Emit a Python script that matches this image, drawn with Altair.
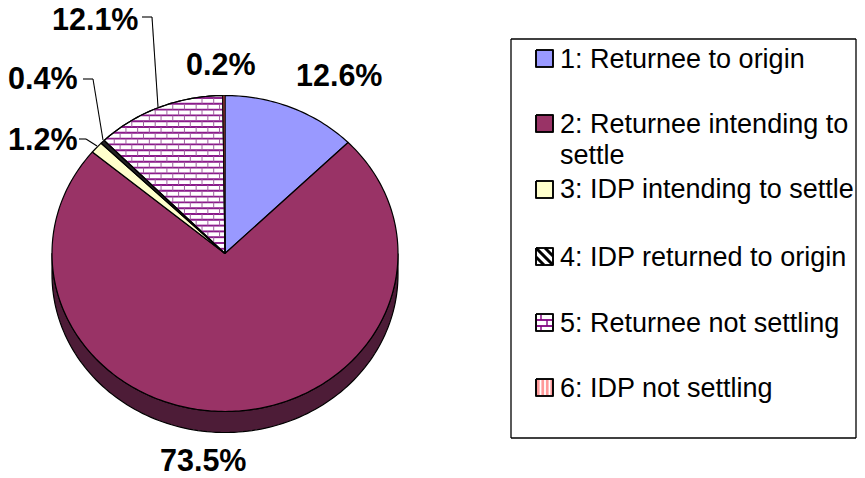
import math
import altair as alt
import pandas as pd

# ---- chart values ----
shares = [12.6, 73.5, 1.2, 0.4, 12.1, 0.2]
names = ["1: Returnee to origin", "2: Returnee intending to", "3: IDP intending to settle",
         "4: IDP returned to origin", "5: Returnee not settling", "6: IDP not settling"]
fills = ["#9999FF", "#993366", "#FFFFCC", "#FFFFFF", "#FFFFFF", "#FF9999"]
value_labels = ["12.6%", "73.5%", "1.2%", "0.4%", "12.1%", "0.2%"]

W, H = 849, 470
CX, CY, RX, RY, DEPTH = 225.0, 253.5, 173.0, 158.0, 21.0
FONT = "Liberation Sans"

def pt(t):
    return CX + RX * math.sin(t), CY - RY * math.cos(t)

xs = alt.Scale(domain=[8, 8 + W], range=[0, W])
ys = alt.Scale(domain=[8, 8 + H], range=[0, H])

def poly(points, fill, stroke="#000000", sw=1.2):
    df = pd.DataFrame([{"x": x, "y": y, "i": i} for i, (x, y) in enumerate(points)])
    return alt.Chart(df).mark_line(fill=fill, stroke=stroke, strokeWidth=sw, strokeJoin="round",
                                   interpolate="linear").encode(
        x=alt.X("x:Q", scale=xs, axis=None), y=alt.Y("y:Q", scale=ys, axis=None), order="i:O")

def segs(rows, color, sw):
    df = pd.DataFrame(rows, columns=["x", "y", "x2", "y2"])
    return alt.Chart(df).mark_rule(color=color, strokeWidth=sw).encode(
        x=alt.X("x:Q", scale=xs, axis=None), y=alt.Y("y:Q", scale=ys, axis=None), x2="x2:Q", y2="y2:Q")

def text(rows, size, bold=False, align="left"):
    df = pd.DataFrame(rows, columns=["x", "y", "t"])
    return alt.Chart(df).mark_text(font=FONT, fontSize=size, fontWeight="bold" if bold else "normal",
                                   align=align, baseline="alphabetic", color="#000000").encode(
        x=alt.X("x:Q", scale=xs, axis=None), y=alt.Y("y:Q", scale=ys, axis=None), text="t:N")

def in_wedge(px, py, a0, a1):
    t = math.atan2((px - CX) / RX, -(py - CY) / RY)
    if t < 0:
        t += 2 * math.pi
    return a0 <= t <= a1 and ((px - CX) / RX) ** 2 + ((py - CY) / RY) ** 2 <= 1

def clip_h(y, x0, x1, a0, a1):
    out, cur = [], None
    n = 260
    for k in range(n + 1):
        px = x0 + (x1 - x0) * k / n
        if in_wedge(px, y, a0, a1):
            cur = [px, px] if cur is None else [cur[0], px]
        elif cur:
            out.append(cur)
            cur = None
    if cur:
        out.append(cur)
    return out

layers = []
# side wall
front = [math.pi / 2 + math.pi * k / 120 for k in range(121)]
rim = [pt(t) for t in front] + [(pt(t)[0], pt(t)[1] + DEPTH) for t in reversed(front)]
layers.append(poly(rim + rim[:1], "#4D1C37"))

# slices
edges = [0.0]
for s in shares:
    edges.append(edges[-1] + s / sum(shares) * 2 * math.pi)
for i, s in enumerate(shares):
    a0, a1 = edges[i], edges[i + 1]
    n = max(2, int((a1 - a0) / 0.02))
    pts = [(CX, CY)] + [pt(a0 + (a1 - a0) * k / n) for k in range(n + 1)] + [(CX, CY)]
    if i == 5:
        layers.append(poly(pts, "#A83C3C", sw=0.8))
    elif i == 3:
        layers.append(poly(pts, "#222222"))
    else:
        layers.append(poly(pts, fills[i]))

    # brick pattern for slice 5
    if i == 4:
        rows, verts, y, r = [], [], 98.0, 0
        brick_h, brick_w = 5.8, 11.7
        while y < CY:
            for a, b in clip_h(y, CX - 140, CX, a0, a1):
                rows.append((a, y, b, y))
            xv = CX - 140 + (0 if r % 2 == 0 else brick_w / 2)
            while xv < CX:
                if all(in_wedge(xv, y + d, a0, a1) for d in (0.3, brick_h - 0.3)):
                    verts.append((xv, y, xv, y + brick_h))
                xv += brick_w
            y += brick_h
            r += 1
        layers.append(segs(rows, "#8A1A8A", 1.9))
        layers.append(segs(verts, "#A060A0", 1.0))
        layers.append(poly(pts, "transparent"))

# leader lines
layers.append(segs([(142, 17, 152, 17), (152, 17, 158, 107)], "#000000", 1.1))
layers.append(segs([(83, 79, 93, 79), (93, 79, 103, 140)], "#000000", 1.1))
layers.append(segs([(79, 139, 86, 139), (86, 139, 97, 146)], "#000000", 1.1))

# percentage labels
LS = 30.5
layers.append(text([(296, 86, value_labels[0]), (160, 471, value_labels[1]), (8, 150, value_labels[2]),
                    (8, 89, value_labels[3]), (52, 30, value_labels[4]), (186, 75, value_labels[5])], LS, True))

# legend frame
FR, FB, FL, FT = 856, 438, 511, 39
layers.append(segs([(FL, FT, FR, FT), (FR, FT, FR, FB), (FR, FB, FL, FB), (FL, FB, FL, FT)], "#000000", 1.3))

# legend swatches
sw_top = [50, 115, 181, 248, 314, 379]
for i, y0 in enumerate(sw_top):
    x0, x1, y1 = 536, 553, y0 + 17
    layers.append(poly([(x0, y0), (x1, y0), (x1, y1), (x0, y1), (x0, y0)], fills[i], sw=1.6))
    if i == 3:
        layers.append(segs([(x0, y0, x1, y1), (x0 + 9, y0, x1, y1 - 9), (x0, y0 + 9, x1 - 9, y1)], "#000000", 3))
    if i == 4:
        layers.append(segs([(x0, y0 + 6, x1, y0 + 6), (x0, y0 + 12, x1, y0 + 12)], "#800080", 1.8))
        layers.append(segs([(x0 + 5, y0, x0 + 5, y0 + 6), (x0 + 11, y0 + 6, x0 + 11, y0 + 12),
                            (x0 + 5, y0 + 12, x0 + 5, y1)], "#800080", 1.4))
    if i == 5:
        layers.append(segs([(x0 + k, y0 + 1, x0 + k, y1 - 1) for k in (4.5, 9, 13.5)], "#FFFFFF", 1.8))
    layers.append(poly([(x0, y0), (x1, y0), (x1, y1), (x0, y1), (x0, y0)], "transparent", sw=1.6))

# legend text
LT = 27
layers.append(text([(560, 68, names[0]), (560, 133, names[1]), (560, 164, "settle"), (560, 198, names[2]),
                    (560, 266, names[3]), (560, 332, names[4]), (560, 397, names[5])], LT))

chart = alt.layer(*layers).properties(width=W, height=H, padding=0, autosize=alt.AutoSizeParams(type="none")).configure_view(stroke=None)
chart.save("out.html", embed_options={"renderer": "svg", "actions": False})
